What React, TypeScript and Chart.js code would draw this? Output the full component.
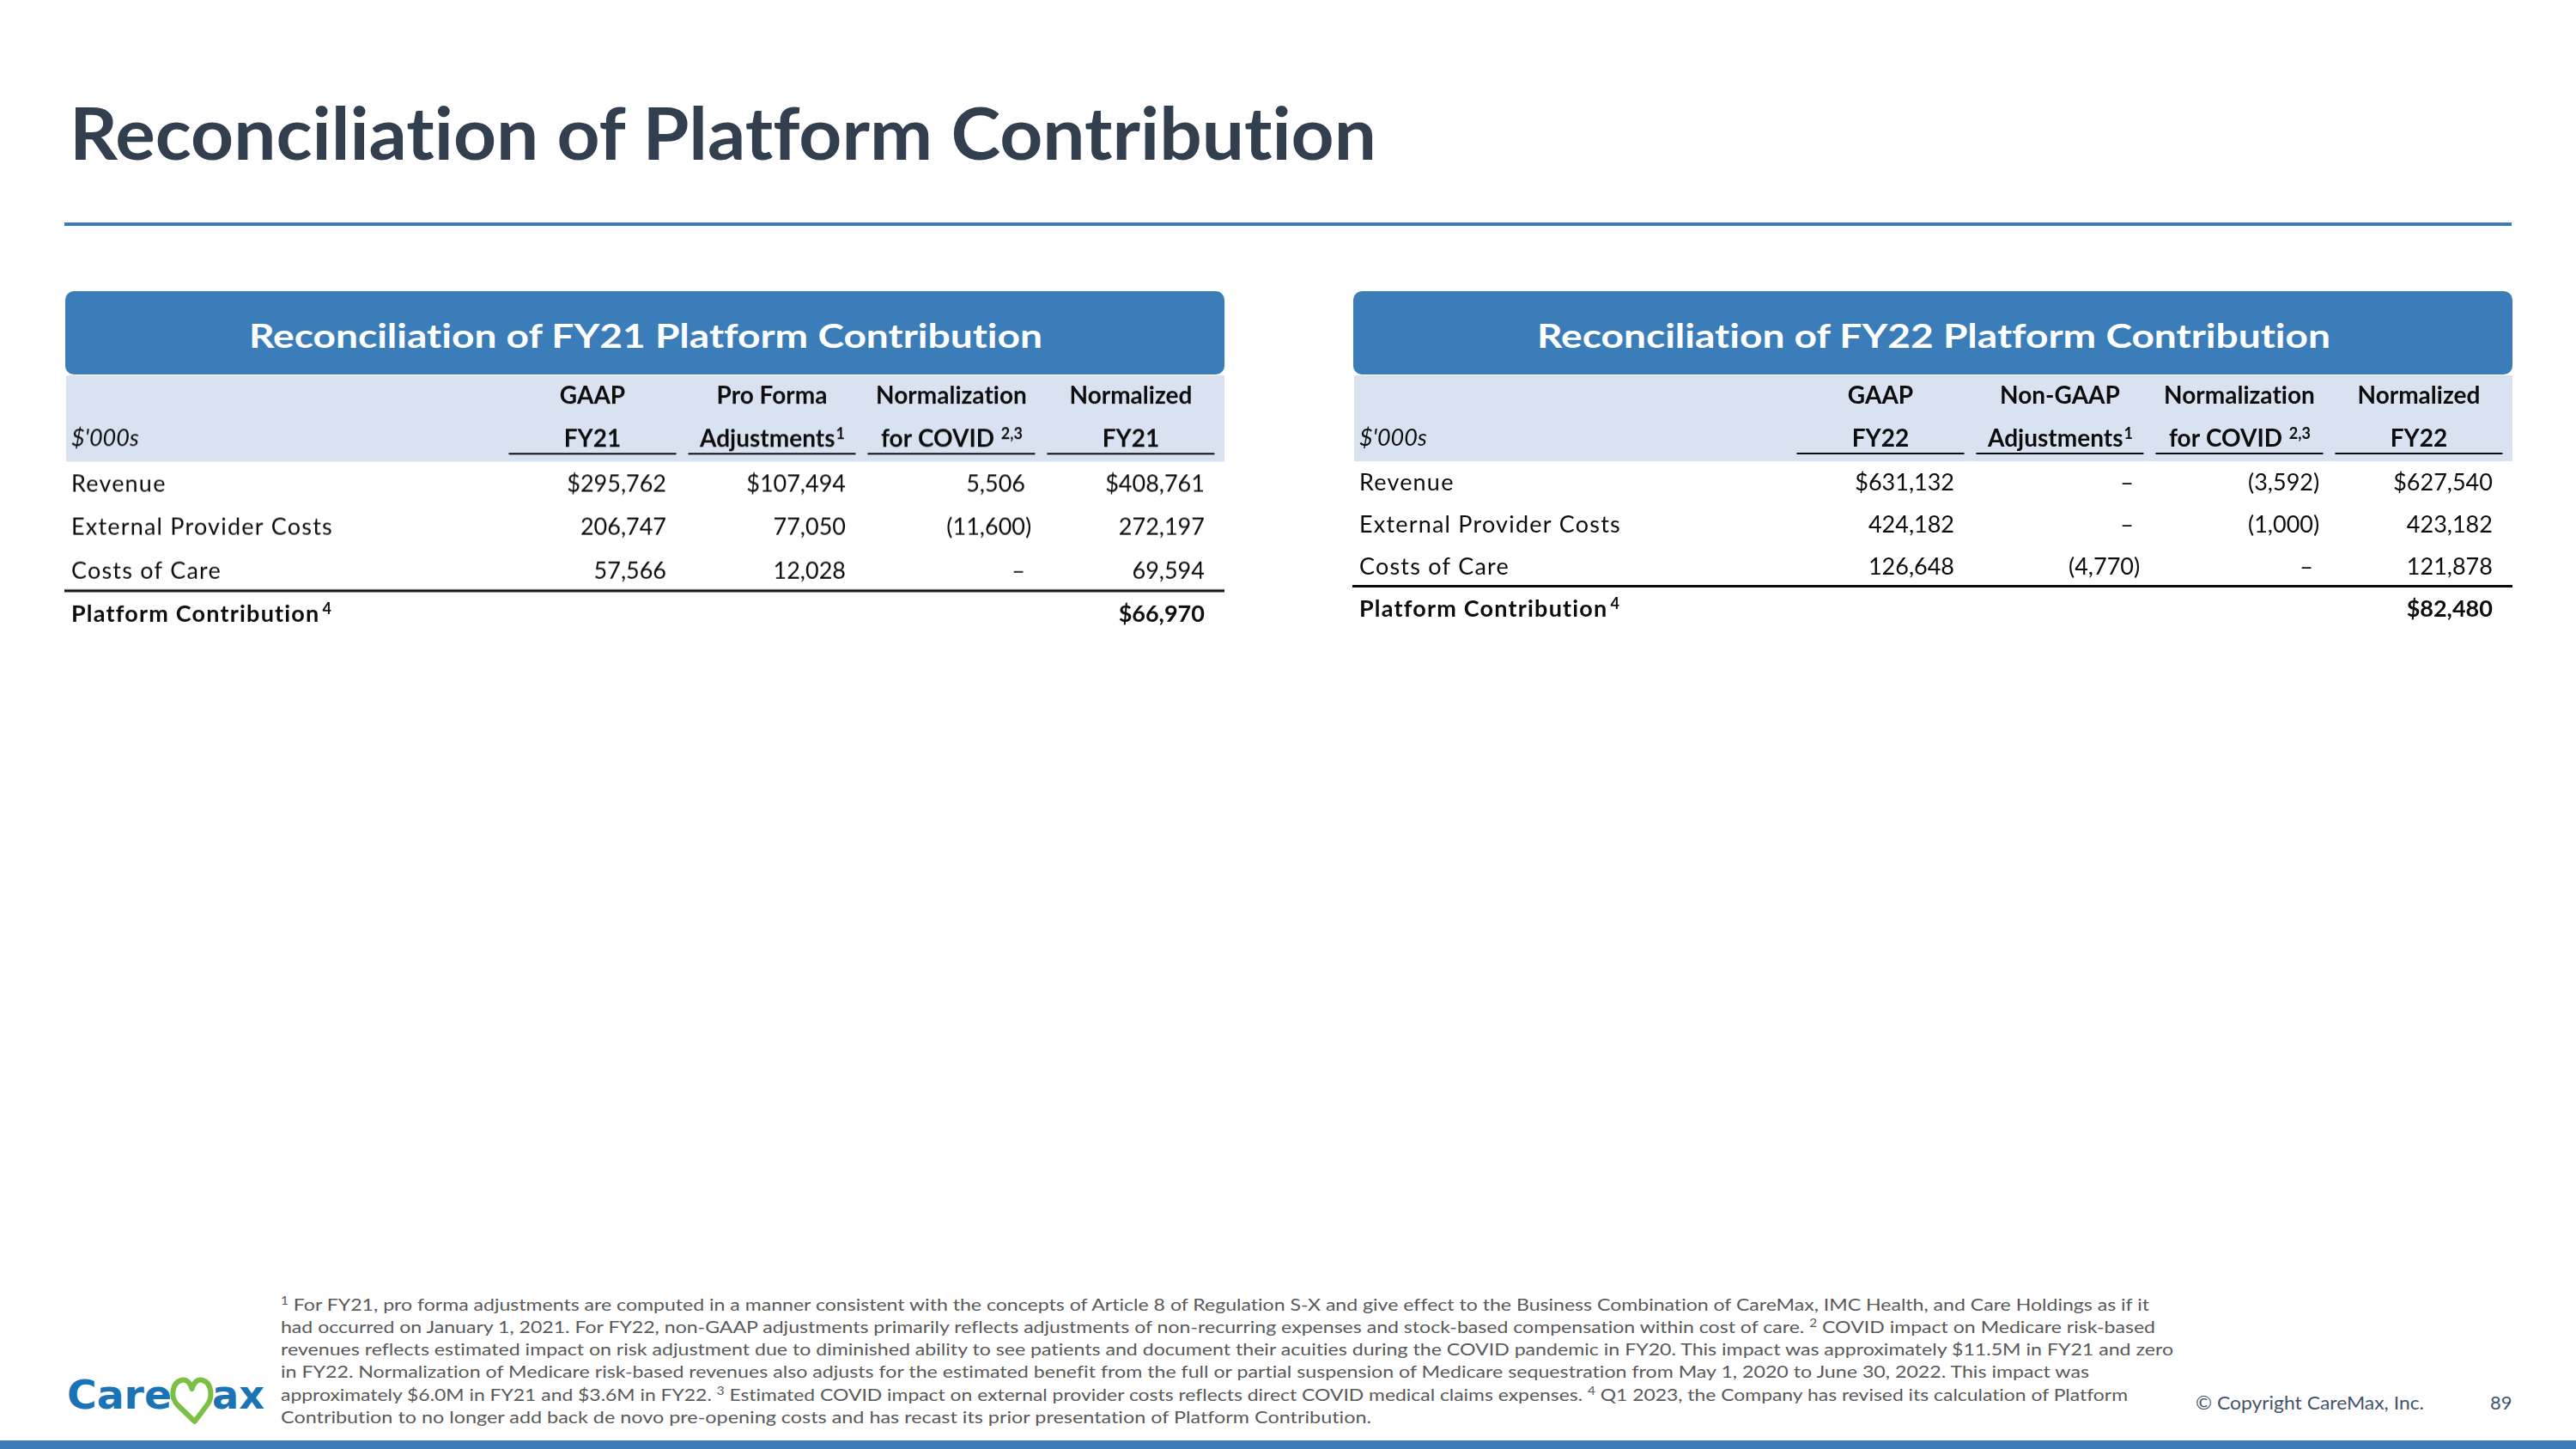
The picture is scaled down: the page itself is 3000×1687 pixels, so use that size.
import React, { useEffect, useRef } from "react";
import { Chart, registerables } from "chart.js";

Chart.register(...registerables);

// ---------------- data ----------------
const rowLabels = ["Revenue", "External Provider Costs", "Costs of Care", "Platform Contribution"];
const unitLabel = "$'000s";

const fy21Head1 = ["GAAP", "Pro Forma", "Normalization", "Normalized"];
const fy21Head2 = ["FY21", "Adjustments", "for COVID ", "FY21"];
const fy22Head1 = ["GAAP", "Non-GAAP", "Normalization", "Normalized"];
const fy22Head2 = ["FY22", "Adjustments", "for COVID ", "FY22"];
const headSup = ["", "1", "2,3", ""];

// rows: Revenue, External Provider Costs, Costs of Care (null = dash)
const fy21Gaap = [295762, 206747, 57566];
const fy21ProForma = [107494, 77050, 12028];
const fy21Covid = [5506, -11600, null];
const fy21Normalized = [408761, 272197, 69594];
const fy21Platform = 66970;

const fy22Gaap = [631132, 424182, 126648];
const fy22NonGaap = [null, null, -4770];
const fy22Covid = [-3592, -1000, null];
const fy22Normalized = [627540, 423182, 121878];
const fy22Platform = 82480;

const revenueDollarCols = [true, true, false, true];

// ---------------- styles ----------------
const BAND = "#d9e2f0";
const BLUE = "#3a7db9";
const FONT = "Lato, 'Open Sans', sans-serif";
const TEXT = "#0d0d0d";
const NOLIG: React.CSSProperties = { fontVariantLigatures: "none" };

type Cell = { x: number; y: number; v: number | null; dollar: boolean; bold: boolean };

function buildCells(cols: (number | null)[][], platform: number): Cell[] {
  const cells: Cell[] = [];
  cols.forEach((col, c) =>
    col.forEach((v, r) =>
      cells.push({ x: c, y: r, v, dollar: r === 0 && revenueDollarCols[c], bold: false })
    )
  );
  cells.push({ x: 3, y: 3, v: platform, dollar: true, bold: true });
  return cells;
}

const fmt = (n: number) => Math.abs(n).toLocaleString("en-US");

const PAD_TOP = 101;
const CANVAS_W = 1351;

function makeTablePlugin(head1: string[], head2: string[]) {
  return {
    id: "tableCells",
    afterDraw(chart: any) {
      const ctx: CanvasRenderingContext2D = chart.ctx;
      const area = chart.chartArea;
      const xs = chart.scales.x;
      const ys = chart.scales.y;
      const top = area.top;
      ctx.save();
      (ctx as any).textRendering = "optimizeSpeed";
      // header band
      ctx.fillStyle = BAND;
      ctx.fillRect(area.left + 2, top - 100, area.right - area.left - 2, 100);

      ctx.fillStyle = TEXT;
      ctx.textBaseline = "alphabetic";
      for (let c = 0; c < 4; c++) {
        const cx = xs.getPixelForValue(c);
        ctx.font = `bold 28px ${FONT}`;
        ctx.textAlign = "center";
        ctx.fillText(head1[c], cx, top - 67, 192);
        const main = head2[c];
        const sup = headSup[c];
        ctx.font = `bold 28px ${FONT}`;
        const wm = ctx.measureText(main).width;
        ctx.font = `bold 18px ${FONT}`;
        const ws = sup ? ctx.measureText(sup).width : 0;
        const start = cx - (wm + ws) / 2;
        ctx.textAlign = "left";
        ctx.font = `bold 28px ${FONT}`;
        ctx.fillText(main, start, top - 17);
        if (sup) {
          ctx.font = `bold 18px ${FONT}`;
          ctx.fillText(sup, start + wm + 1, top - 26);
        }
        ctx.fillRect(cx - 97.5, top - 10, 195, 2);
      }
      // unit label
      ctx.font = `italic 27px ${FONT}`;
      ctx.textAlign = "left";
      ctx.fillText(unitLabel, area.left + 8, top - 18);

      // row labels
      (ctx as any).letterSpacing = "1.2px";
      rowLabels.forEach((lab, r) => {
        const y = ys.getPixelForValue(r) + 9.7;
        const bold = r === rowLabels.length - 1;
        ctx.font = `${bold ? "bold " : ""}27px ${FONT}`;
        ctx.textAlign = "left";
        ctx.fillText(lab, area.left + 8, y);
        if (bold) {
          const w = ctx.measureText(lab).width;
          (ctx as any).letterSpacing = "0px";
          ctx.font = `bold 18px ${FONT}`;
          ctx.fillText("4", area.left + 8 + w + 3, y - 9);
        }
      });
      (ctx as any).letterSpacing = "0px";

      // separator above total row
      const sy = ys.getPixelForValue(2.5);
      ctx.fillRect(area.left, sy - 3, area.right - area.left, 3);

      // value cells, positioned by the chart's own points
      const meta = chart.getDatasetMeta(0);
      const data = chart.data.datasets[0].data as Cell[];
      meta.data.forEach((el: any, i: number) => {
        const cell = data[i];
        const edge = el.x + 86;
        const y = el.y + 9.7;
        ctx.font = `${cell.bold ? "bold " : ""}27px ${FONT}`;
        if (cell.v === null) {
          ctx.textAlign = "right";
          ctx.fillText("\u2013", edge, y);
          return;
        }
        const s = (cell.dollar ? "$" : "") + fmt(cell.v);
        ctx.textAlign = "right";
        ctx.fillText(s, edge, y);
        if (cell.v < 0) {
          const w = ctx.measureText(s).width;
          ctx.fillText("(", edge - w, y);
          ctx.textAlign = "left";
          ctx.fillText(")", edge, y);
        }
      });
      ctx.restore();
    },
  };
}

type TableProps = {
  left: number;
  top: number;
  rowH: number;
  head1: string[];
  head2: string[];
  cols: (number | null)[][];
  platform: number;
};

function TableChart({ left, top, rowH, head1, head2, cols, platform }: TableProps) {
  const ref = useRef<HTMLCanvasElement>(null);
  const h = PAD_TOP + rowH * 4 + 8;
  useEffect(() => {
    const cells = buildCells(cols, platform);
    const chart = new Chart(ref.current as HTMLCanvasElement, {
      type: "scatter",
      data: {
        datasets: [
          {
            data: cells as any,
            pointRadius: 0,
            pointHoverRadius: 0,
            showLine: false,
          },
        ],
      },
      options: {
        responsive: false,
        maintainAspectRatio: false,
        animation: false,
        events: [],
        layout: { padding: { top: PAD_TOP, left: 0, right: 0, bottom: 8 } },
        plugins: { legend: { display: false }, tooltip: { enabled: false } },
        scales: {
          x: { type: "linear", display: false, min: -2.943, max: 3.522 },
          y: { type: "linear", display: false, min: -0.5, max: 3.5, reverse: true },
        },
      },
      plugins: [makeTablePlugin(head1, head2)],
    });
    let alive = true;
    if ((document as any).fonts && (document as any).fonts.ready) {
      (document as any).fonts.ready.then(() => {
        if (alive) chart.draw();
      });
    }
    return () => {
      alive = false;
      chart.destroy();
    };
  }, []);
  return (
    <canvas
      ref={ref}
      width={CANVAS_W}
      height={h}
      style={{ position: "absolute", left, top, width: CANVAS_W, height: h }}
    />
  );
}

function FootLine({ y, end, children }: { y: number; end: number; children: React.ReactNode }) {
  return (
    <text x={327} y={y} textLength={end - 327} lengthAdjust="spacingAndGlyphs" fontSize={19.5} fill="#595959" fontFamily={FONT} style={NOLIG}>
      {children}
    </text>
  );
}

export default function App() {
  return (
    <div
      style={{
        position: "absolute",
        left: 0,
        top: 0,
        width: 3000,
        height: 1687,
        background: "#ffffff",
        overflow: "hidden",
      }}
    >
      <svg width={3000} height={1687} style={{ position: "absolute", left: 0, top: 0 }}>
        <text x={81} y={186} fontFamily={FONT} fontWeight="bold" fontSize={84} fill="#323f4f" textLength={1522} lengthAdjust="spacingAndGlyphs" style={NOLIG}>
          Reconciliation of Platform Contribution
        </text>
        <rect x={75} y={259} width={2850} height={4} fill={BLUE} />

        <rect x={76} y={339} width={1350} height={97} rx={10} ry={10} fill={BLUE} />
        <text x={290} y={405} fontFamily={FONT} fontWeight="bold" fontSize={39} fill="#ffffff" textLength={924} lengthAdjust="spacingAndGlyphs" style={NOLIG}>
          Reconciliation of FY21 Platform Contribution
        </text>
        <rect x={1576} y={339} width={1350} height={97} rx={10} ry={10} fill={BLUE} />
        <text x={1790} y={405} fontFamily={FONT} fontWeight="bold" fontSize={39} fill="#ffffff" textLength={924} lengthAdjust="spacingAndGlyphs" style={NOLIG}>
          Reconciliation of FY22 Platform Contribution
        </text>

        <FootLine y={1526} end={2503}>
          <tspan dy={-7} fontSize={13}>1</tspan>
          <tspan dy={7}> For FY21, pro forma adjustments are computed in a manner consistent with the concepts of Article 8 of Regulation S-X and give effect to the Business Combination of CareMax, IMC Health, and Care Holdings as if it</tspan>
        </FootLine>
        <FootLine y={1552} end={2510}>
          <tspan>had occurred on January 1, 2021. For FY22, non-GAAP adjustments primarily reflects adjustments of non-recurring expenses and stock-based compensation within cost of care. </tspan>
          <tspan dy={-7} fontSize={13}>2</tspan>
          <tspan dy={7}> COVID impact on Medicare risk-based</tspan>
        </FootLine>
        <FootLine y={1578} end={2531}>
          revenues reflects estimated impact on risk adjustment due to diminished ability to see patients and document their acuities during the COVID pandemic in FY20. This impact was approximately $11.5M in FY21 and zero
        </FootLine>
        <FootLine y={1604} end={2433}>
          in FY22. Normalization of Medicare risk-based revenues also adjusts for the estimated benefit from the full or partial suspension of Medicare sequestration from May 1, 2020 to June 30, 2022. This impact was
        </FootLine>
        <FootLine y={1631} end={2478}>
          <tspan>approximately $6.0M in FY21 and $3.6M in FY22. </tspan>
          <tspan dy={-7} fontSize={13}>3</tspan>
          <tspan dy={7}> Estimated COVID impact on external provider costs reflects direct COVID medical claims expenses. </tspan>
          <tspan dy={-7} fontSize={13}>4</tspan>
          <tspan dy={7}> Q1 2023, the Company has revised its calculation of Platform</tspan>
        </FootLine>
        <FootLine y={1657} end={1597}>
          Contribution to no longer add back de novo pre-opening  costs and has recast its prior presentation of Platform Contribution.
        </FootLine>

        {/* logo */}
        <text x={78} y={1640} fontFamily="'DejaVu Sans', sans-serif" fontWeight="bold" fontSize={47} fill="#1a73b4" textLength={122} lengthAdjust="spacingAndGlyphs">
          Care
        </text>
        <path
          d="M 226.7 1655 L 207 1636 C 198 1627 200 1610 211 1607 C 218 1605 222 1611 223.5 1617 C 225 1611 229 1605 236 1607 C 247 1610 248 1627 241 1636 L 226.7 1655"
          fill="none"
          stroke="#7ac143"
          strokeWidth={6}
          strokeLinecap="round"
          strokeLinejoin="round"
        />
        <text x={247} y={1640} fontFamily="'DejaVu Sans', sans-serif" fontWeight="bold" fontSize={47} fill="#1a73b4" textLength={61} lengthAdjust="spacingAndGlyphs">
          ax
        </text>

        <text x={2557} y={1641} fontFamily={FONT} fontSize={22} fill="#44546a" textLength={266} lengthAdjust="spacingAndGlyphs">
          © Copyright CareMax, Inc.
        </text>
        <text x={2900} y={1641} fontFamily={FONT} fontSize={22} fill="#44546a">
          89
        </text>
        <rect x={0} y={1677} width={3000} height={10} fill={BLUE} />
      </svg>

      <TableChart left={75} top={436} rowH={50.7} head1={fy21Head1} head2={fy21Head2} cols={[fy21Gaap, fy21ProForma, fy21Covid, fy21Normalized]} platform={fy21Platform} />
      <TableChart left={1575} top={436} rowH={49} head1={fy22Head1} head2={fy22Head2} cols={[fy22Gaap, fy22NonGaap, fy22Covid, fy22Normalized]} platform={fy22Platform} />
    </div>
  );
}
